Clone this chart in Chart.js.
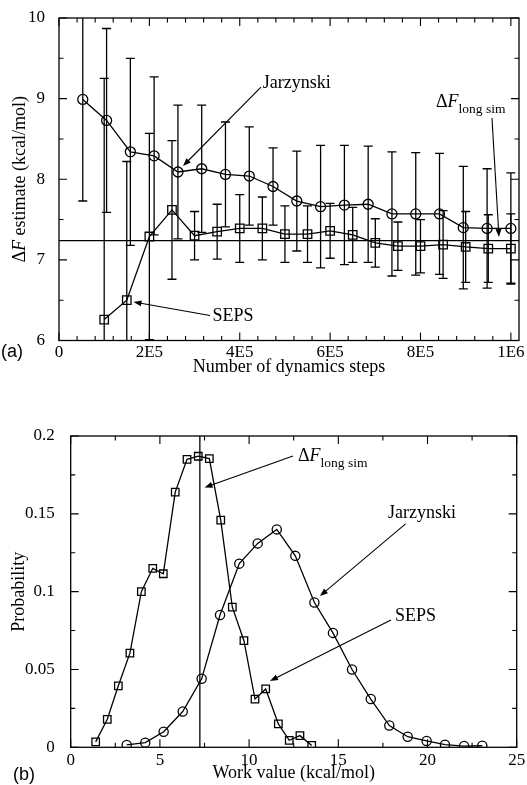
<!DOCTYPE html>
<html>
<head>
<meta charset="utf-8">
<script src="https://cdn.jsdelivr.net/npm/chart.js@4.4.1/dist/chart.umd.min.js"></script>
<style>
  body { margin: 0; background: #fff; }
  #wrap { position: relative; width: 527px; height: 785px; }
  canvas { position: absolute; left: 0; }
</style>
</head>
<body>
<div id="wrap">
  <canvas id="chartA" width="527" height="390" style="top:0"></canvas>
  <canvas id="chartB" width="527" height="395" style="top:390px"></canvas>
</div>
<script>
// Panel (a): running estimate of deltaF vs. number of dynamics steps
const jarSteps = [52600, 105300, 157900, 210500, 263200, 315800, 368400, 421100, 473700, 526300,
                  578900, 631600, 684200, 736800, 789500, 842100, 894700, 947400, 1000000];
const jarEstimate = [8.99, 8.73, 8.34, 8.29, 8.09, 8.13, 8.06, 8.04, 7.91, 7.73,
                     7.66, 7.68, 7.69, 7.57, 7.57, 7.57, 7.40, 7.39, 7.39];
const jarError = [1.26, 1.14, 1.16, 0.98, 0.83, 0.79, 0.65, 0.61, 0.48, 0.62,
                  0.76, 0.74, 0.72, 0.77, 0.76, 0.75, 0.76, 0.74, 0.69];

const sepsSteps = [100000, 150000, 200000, 250000, 300000, 350000, 400000, 450000, 500000, 550000,
                   600000, 650000, 700000, 750000, 800000, 850000, 900000, 950000, 1000000];
const sepsEstimate = [6.26, 6.50, 7.29, 7.62, 7.30, 7.35, 7.39, 7.39, 7.32, 7.32,
                      7.36, 7.31, 7.21, 7.17, 7.17, 7.19, 7.16, 7.14, 7.14];
const sepsError = [2.99, 1.72, 1.28, 0.86, 0.30, 0.34, 0.42, 0.39, 0.35, 0.35,
                   0.34, 0.34, 0.30, 0.30, 0.33, 0.42, 0.44, 0.42, 0.43];

const longSimDeltaF = 7.24;

const stepTicks = [0, 200000, 400000, 600000, 800000, 1000000];
const stepTickLabels = ['0', '2E5', '4E5', '6E5', '8E5', '1E6'];
const estimateTicks = [6, 7, 8, 9, 10];

// Panel (b): work distributions
const sepsWork = [1.40, 2.05, 2.67, 3.32, 3.96, 4.60, 5.19, 5.86, 6.52, 7.15,
                  7.77, 8.41, 9.06, 9.71, 10.33, 10.93, 11.64, 12.25, 12.85, 13.51];
const sepsProb = [0.0035, 0.018, 0.0395, 0.0605, 0.100, 0.115, 0.1115, 0.164, 0.185, 0.187,
                  0.1855, 0.146, 0.090, 0.0685, 0.031, 0.0375, 0.015, 0.0045, 0.0075, 0.0012];
const jarWork = [3.14, 4.18, 5.21, 6.28, 7.34, 8.37, 9.45, 10.48, 11.55, 12.59,
                 13.66, 14.70, 15.77, 16.82, 17.86, 18.89, 19.95, 20.98, 22.05, 23.07];
const jarProb = [0.0015, 0.003, 0.010, 0.023, 0.044, 0.085, 0.118, 0.131, 0.140, 0.123,
                 0.093, 0.0735, 0.050, 0.031, 0.014, 0.0068, 0.0041, 0.0017, 0.0008, 0.001];

const workTicks = [0, 5, 10, 15, 20, 25];
const probTicks = [0, 0.05, 0.1, 0.15, 0.2];
const probTickLabels = ['0', '0.05', '0.1', '0.15', '0.2'];

Chart.defaults.font.family = 'Liberation Serif';
Chart.defaults.color = '#000';

const SERIF = 'Liberation Serif';

function every(from, to, step, skip) {
    const out = [];
    for (let v = from; v <= to + 1e-9; v += step) {
        if (!skip.some(s => Math.abs(s - v) < step / 10)) out.push(v);
    }
    return out;
}

// frame round the plot area with inward ticks on all four sides
const frameTicks = {
    id: 'frameTicks',
    afterDraw(chart, args, opts) {
        const { ctx, chartArea: a, scales: { x, y } } = chart;
        ctx.save();
        ctx.strokeStyle = '#000';
        ctx.lineWidth = 1.3;
        ctx.strokeRect(a.left, a.top, a.right - a.left, a.bottom - a.top);
        ctx.lineWidth = 1.1;
        ctx.beginPath();
        const xt = (vals, len) => vals.forEach(v => {
            const p = x.getPixelForValue(v);
            ctx.moveTo(p, a.bottom); ctx.lineTo(p, a.bottom - len);
            ctx.moveTo(p, a.top); ctx.lineTo(p, a.top + len);
        });
        const yt = (vals, len) => vals.forEach(v => {
            const p = y.getPixelForValue(v);
            ctx.moveTo(a.left, p); ctx.lineTo(a.left + len, p);
            ctx.moveTo(a.right, p); ctx.lineTo(a.right - len, p);
        });
        xt(opts.xMajor, 8); xt(opts.xMinor, 4.5);
        yt(opts.yMajor, 8); yt(opts.yMinor, 4.5);
        ctx.stroke();
        ctx.restore();
    }
};

const errorBars = {
    id: 'errorBars',
    beforeDatasetsDraw(chart, args, opts) {
        if (!opts.sets) return;
        const { ctx, chartArea: a, scales: { x, y } } = chart;
        ctx.save();
        ctx.beginPath();
        ctx.rect(a.left, a.top, a.right - a.left, a.bottom - a.top);
        ctx.clip();
        ctx.strokeStyle = '#000';
        ctx.lineWidth = 1.3;
        opts.sets.forEach(s => s.xs.forEach((xv, i) => {
            const px = x.getPixelForValue(xv);
            const lo = y.getPixelForValue(s.ys[i] - s.err[i]);
            const hi = y.getPixelForValue(s.ys[i] + s.err[i]);
            ctx.beginPath();
            ctx.moveTo(px, lo); ctx.lineTo(px, hi);
            ctx.moveTo(px - 4.5, lo); ctx.lineTo(px + 4.5, lo);
            ctx.moveTo(px - 4.5, hi); ctx.lineTo(px + 4.5, hi);
            ctx.stroke();
        }));
        ctx.restore();
    }
};

function arrow(ctx, x1, y1, x2, y2) {
    const ang = Math.atan2(y2 - y1, x2 - x1);
    ctx.beginPath();
    ctx.moveTo(x1, y1);
    ctx.lineTo(x2 - 6 * Math.cos(ang), y2 - 6 * Math.sin(ang));
    ctx.stroke();
    ctx.beginPath();
    ctx.moveTo(x2, y2);
    ctx.lineTo(x2 - 8 * Math.cos(ang) + 3 * Math.sin(ang), y2 - 8 * Math.sin(ang) - 3 * Math.cos(ang));
    ctx.lineTo(x2 - 8 * Math.cos(ang) - 3 * Math.sin(ang), y2 - 8 * Math.sin(ang) + 3 * Math.cos(ang));
    ctx.closePath();
    ctx.fill();
}

// text made of pieces: [text, font, dy]
function pieces(ctx, parts, x, y) {
    let cx = x;
    parts.forEach(p => {
        ctx.font = p[1];
        ctx.fillText(p[0], cx, y + (p[2] || 0));
        cx += ctx.measureText(p[0]).width;
    });
}
function piecesWidth(ctx, parts) {
    let w = 0;
    parts.forEach(p => { ctx.font = p[1]; w += ctx.measureText(p[0]).width; });
    return w;
}

const deltaFSub = [['\u0394', `18px ${SERIF}`], ['F', `italic 18px ${SERIF}`], ['long sim', `13.5px ${SERIF}`, 6]];

const notes = {
    id: 'notes',
    afterDraw(chart, args, o) {
        const { ctx, chartArea: a, scales: { x, y } } = chart;
        ctx.save();
        ctx.strokeStyle = '#000';
        ctx.fillStyle = '#000';
        ctx.lineWidth = 1.3;
        // long simulation reference line
        ctx.beginPath();
        if (o.refAxis === 'y') {
            const p = y.getPixelForValue(o.refValue);
            ctx.moveTo(a.left, p); ctx.lineTo(a.right, p);
        } else {
            const p = x.getPixelForValue(o.refValue);
            ctx.moveTo(p, a.top); ctx.lineTo(p, a.bottom);
        }
        ctx.stroke();
        ctx.lineWidth = 1.1;
        o.arrows.forEach(r => arrow(ctx, x.getPixelForValue(r[0]), y.getPixelForValue(r[1]),
                                         x.getPixelForValue(r[2]), y.getPixelForValue(r[3])));
        ctx.textAlign = 'left';
        ctx.textBaseline = 'middle';
        ctx.font = `18px ${SERIF}`;
        o.labels.forEach(l => ctx.fillText(l[0], x.getPixelForValue(l[1]), y.getPixelForValue(l[2])));
        ctx.textBaseline = 'alphabetic';
        pieces(ctx, deltaFSub, x.getPixelForValue(o.deltaF[0]), y.getPixelForValue(o.deltaF[1]));
        // axis titles
        ctx.textBaseline = 'middle';
        ctx.textAlign = 'center';
        ctx.font = `18px ${SERIF}`;
        ctx.fillText(o.xTitle, (a.left + a.right) / 2, o.xTitleY);
        ctx.save();
        ctx.translate(o.yTitleX, (a.top + a.bottom) / 2);
        ctx.rotate(-Math.PI / 2);
        ctx.textAlign = 'left';
        pieces(ctx, o.yTitle, -piecesWidth(ctx, o.yTitle) / 2, 0);
        ctx.restore();
        ctx.textAlign = 'left';
        ctx.font = `18px Liberation Sans`;
        ctx.fillText(o.panel, o.panelX, o.panelY);
        ctx.restore();
    }
};

function fixedScale(size, horizontal) {
    return s => {
        if (horizontal) { s.height = size; s.paddingLeft = 0; s.paddingRight = 0; }
        else { s.width = size; s.paddingTop = 0; s.paddingBottom = 0; }
    };
}

function pts(xs, ys) { return xs.map((v, i) => ({ x: v, y: ys[i] })); }

const lineStyle = {
    showLine: true,
    borderColor: '#000',
    borderWidth: 1.3,
    pointBorderColor: '#000',
    pointBackgroundColor: 'rgba(0,0,0,0)',
    pointBorderWidth: 1.3
};

// ---- panel (a)
new Chart(document.getElementById('chartA'), {
    type: 'scatter',
    data: {
        datasets: [
            { ...lineStyle, label: 'Jarzynski', data: pts(jarSteps, jarEstimate), pointStyle: 'circle', pointRadius: 5 },
            { ...lineStyle, label: 'SEPS', data: pts(sepsSteps, sepsEstimate), pointStyle: 'rect', pointRadius: 6 }
        ]
    },
    options: {
        responsive: false,
        animation: false,
        devicePixelRatio: 1,
        layout: { padding: { left: 0, top: 18, right: 8, bottom: 0 } },
        plugins: {
            legend: { display: false },
            tooltip: { enabled: false },
            errorBars: { sets: [
                { xs: jarSteps, ys: jarEstimate, err: jarError },
                { xs: sepsSteps, ys: sepsEstimate, err: sepsError }
            ] },
            frameTicks: {
                xMajor: stepTicks, xMinor: every(0, 1000000, 40000, stepTicks),
                yMajor: estimateTicks, yMinor: every(6, 10, 0.5, estimateTicks)
            },
            notes: {
                refAxis: 'y', refValue: longSimDeltaF,
                arrows: [[447000, 9.144, 274400, 8.164], [334100, 6.31, 164900, 6.478], [958200, 8.76, 973700, 7.284]],
                labels: [['Jarzynski', 451000, 9.194], ['SEPS', 339700, 6.304]],
                deltaF: [834300, 8.896],
                xTitle: 'Number of dynamics steps', xTitleY: 367,
                yTitle: [['\u0394', `18px ${SERIF}`], ['F', `italic 18px ${SERIF}`], [' estimate (kcal/mol)', `18px ${SERIF}`]],
                yTitleX: 20,
                panel: '(a)', panelX: 1, panelY: 352
            }
        },
        scales: {
            x: {
                type: 'linear', min: 0, max: 1018000,
                grid: { display: false }, border: { display: false },
                afterBuildTicks: s => { s.ticks = stepTicks.map(v => ({ value: v })); },
                afterFit: fixedScale(49.5, true),
                ticks: { font: { size: 17 }, padding: -6, maxRotation: 0, autoSkip: false,
                         callback: (v, i) => stepTickLabels[i] }
            },
            y: {
                type: 'linear', min: 6, max: 10,
                grid: { display: false }, border: { display: false },
                afterBuildTicks: s => { s.ticks = estimateTicks.map(v => ({ value: v })); },
                afterFit: fixedScale(59, false),
                ticks: { font: { size: 17 }, padding: 6, callback: v => String(v) }
            }
        }
    },
    plugins: [errorBars, frameTicks, notes]
});

// ---- panel (b)
new Chart(document.getElementById('chartB'), {
    type: 'scatter',
    data: {
        datasets: [
            { ...lineStyle, label: 'SEPS', data: pts(sepsWork, sepsProb), pointStyle: 'rect', pointRadius: 5.3 },
            { ...lineStyle, label: 'Jarzynski', data: pts(jarWork, jarProb), pointStyle: 'circle', pointRadius: 4.6 }
        ]
    },
    options: {
        responsive: false,
        animation: false,
        devicePixelRatio: 1,
        layout: { padding: { left: 0, top: 46, right: 10.3, bottom: 0 } },
        plugins: {
            legend: { display: false },
            tooltip: { enabled: false },
            frameTicks: {
                xMajor: workTicks, xMinor: every(0, 25, 2.5, workTicks),
                yMajor: probTicks, yMinor: every(0, 0.2, 0.025, probTicks)
            },
            notes: {
                refAxis: 'x', refValue: longSimDeltaF,
                arrows: [[12.46, 0.1871, 7.50, 0.1669], [18.77, 0.1435, 13.97, 0.0972], [17.95, 0.0818, 11.17, 0.0426]],
                labels: [['Jarzynski', 17.79, 0.1505], ['SEPS', 18.18, 0.0840]],
                deltaF: [12.74, 0.184],
                xTitle: 'Work value (kcal/mol)', xTitleY: 383,
                yTitle: [['Probability', `18px ${SERIF}`]],
                yTitleX: 19,
                panel: '(b)', panelX: 13, panelY: 385
            }
        },
        scales: {
            x: {
                type: 'linear', min: 0, max: 25,
                grid: { display: false }, border: { display: false },
                afterBuildTicks: s => { s.ticks = workTicks.map(v => ({ value: v })); },
                afterFit: fixedScale(37.7, true),
                ticks: { font: { size: 17 }, padding: -5, maxRotation: 0, autoSkip: false,
                         callback: v => String(v) }
            },
            y: {
                type: 'linear', min: 0, max: 0.2,
                grid: { display: false }, border: { display: false },
                afterBuildTicks: s => { s.ticks = probTicks.map(v => ({ value: v })); },
                afterFit: fixedScale(70.7, false),
                ticks: { font: { size: 17 }, padding: 8, callback: (v, i) => probTickLabels[i] }
            }
        }
    },
    plugins: [frameTicks, notes]
});
</script>
</body>
</html>
